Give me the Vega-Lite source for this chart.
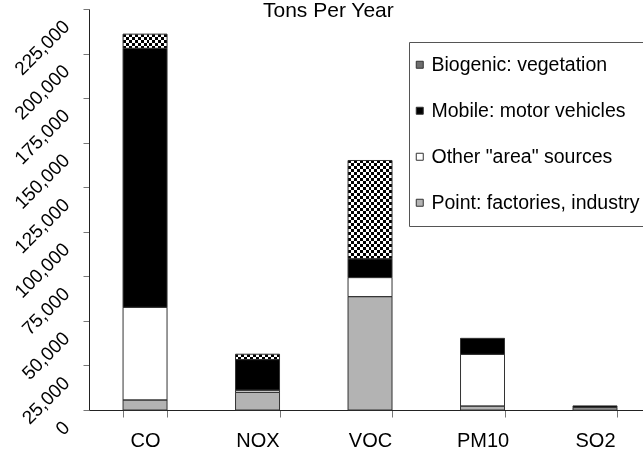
{
  "$schema": "https://vega.github.io/schema/vega-lite/v6.json",
  "autosize": "none",
  "padding": {"left": 89, "top": 9, "right": 0, "bottom": 40},
  "width": 554,
  "height": 401,
  "background": "white",
  "title": {"text": "Tons Per Year", "anchor": "start", "frame": "group", "dx": 174, "offset": -29, "baseline": "alphabetic", "font": "Liberation Sans", "fontSize": 21, "fontWeight": "normal", "color": "black"},
  "data": {"values": [
    {"pollutant": "CO", "source": "Point: factories, industry", "tons": 5600},
    {"pollutant": "CO", "source": "Other \"area\" sources", "tons": 52000},
    {"pollutant": "CO", "source": "Mobile: motor vehicles", "tons": 145300},
    {"pollutant": "CO", "source": "Biogenic: vegetation", "tons": 8000},
    {"pollutant": "NOX", "source": "Point: factories, industry", "tons": 9900},
    {"pollutant": "NOX", "source": "Other \"area\" sources", "tons": 1200},
    {"pollutant": "NOX", "source": "Mobile: motor vehicles", "tons": 17200},
    {"pollutant": "NOX", "source": "Biogenic: vegetation", "tons": 3000},
    {"pollutant": "VOC", "source": "Point: factories, industry", "tons": 63600},
    {"pollutant": "VOC", "source": "Other \"area\" sources", "tons": 10700},
    {"pollutant": "VOC", "source": "Mobile: motor vehicles", "tons": 10500},
    {"pollutant": "VOC", "source": "Biogenic: vegetation", "tons": 55200},
    {"pollutant": "PM10", "source": "Point: factories, industry", "tons": 2200},
    {"pollutant": "PM10", "source": "Other \"area\" sources", "tons": 29000},
    {"pollutant": "PM10", "source": "Mobile: motor vehicles", "tons": 9000},
    {"pollutant": "SO2", "source": "Point: factories, industry", "tons": 1300},
    {"pollutant": "SO2", "source": "Mobile: motor vehicles", "tons": 1000}
  ]},
  "transform": [
    {"stack": "tons", "groupby": ["pollutant"], "sort": [{"field": "source", "order": "descending"}], "as": ["y0", "y1"]}
  ],
  "encoding": {
    "x": {
      "field": "pollutant", "type": "nominal", "sort": ["CO", "NOX", "VOC", "PM10", "SO2"], "title": null,
      "scale": {"paddingInner": 0.609, "paddingOuter": 0.267, "align": 0.567},
      "axis": {"tickBand": "extent", "labelAngle": 0, "labelFont": "Liberation Sans", "labelFontSize": 20, "labelColor": "black", "labelPadding": 13, "tickColor": "#777", "tickSize": 7, "domainColor": "#222", "grid": false}
    },
    "y": {
      "field": "y1", "type": "quantitative", "title": null,
      "scale": {"domain": [0, 225000], "nice": false, "zero": true},
      "axis": {"values": [0, 25000, 50000, 75000, 100000, 125000, 150000, 175000, 200000, 225000], "format": ",d", "labelAngle": -45, "labelAlign": "right", "labelBaseline": "middle", "labelOffset": 14, "labelPadding": 17, "labelFont": "Liberation Sans", "labelFontSize": 19, "labelColor": "black", "labelOverlap": false, "labelFlush": false, "tickColor": "#777", "tickSize": 6, "domainColor": "#222", "grid": false}
    },
    "y2": {"field": "y0"}
  },
  "layer": [
    {
      "mark": {"type": "bar", "strokeWidth": 0},
      "encoding": {
        "fill": {
          "field": "source", "type": "nominal",
          "scale": {"domain": ["Biogenic: vegetation", "Mobile: motor vehicles", "Other \"area\" sources", "Point: factories, industry"], "range": ["#6e6e6e", "#000000", "#ffffff", "#b3b3b3"]},
          "condition": [
            {"test": "datum.source === 'Biogenic: vegetation' && datum.pollutant === 'VOC'", "value": {"gradient": "linear", "x1": 0, "y1": 0, "x2": 0, "y2": 1, "stops": [
              {"offset": 0, "color": "#fff"}, {"offset": 0.0303, "color": "#fff"},
              {"offset": 0.0303, "color": "#000"}, {"offset": 0.0606, "color": "#000"},
              {"offset": 0.0606, "color": "#fff"}, {"offset": 0.0909, "color": "#fff"},
              {"offset": 0.0909, "color": "#000"}, {"offset": 0.1212, "color": "#000"},
              {"offset": 0.1212, "color": "#fff"}, {"offset": 0.1515, "color": "#fff"},
              {"offset": 0.1515, "color": "#000"}, {"offset": 0.1818, "color": "#000"},
              {"offset": 0.1818, "color": "#fff"}, {"offset": 0.2121, "color": "#fff"},
              {"offset": 0.2121, "color": "#000"}, {"offset": 0.2424, "color": "#000"},
              {"offset": 0.2424, "color": "#fff"}, {"offset": 0.2727, "color": "#fff"},
              {"offset": 0.2727, "color": "#000"}, {"offset": 0.3030, "color": "#000"},
              {"offset": 0.3030, "color": "#fff"}, {"offset": 0.3333, "color": "#fff"},
              {"offset": 0.3333, "color": "#000"}, {"offset": 0.3636, "color": "#000"},
              {"offset": 0.3636, "color": "#fff"}, {"offset": 0.3939, "color": "#fff"},
              {"offset": 0.3939, "color": "#000"}, {"offset": 0.4242, "color": "#000"},
              {"offset": 0.4242, "color": "#fff"}, {"offset": 0.4545, "color": "#fff"},
              {"offset": 0.4545, "color": "#000"}, {"offset": 0.4848, "color": "#000"},
              {"offset": 0.4848, "color": "#fff"}, {"offset": 0.5152, "color": "#fff"},
              {"offset": 0.5152, "color": "#000"}, {"offset": 0.5455, "color": "#000"},
              {"offset": 0.5455, "color": "#fff"}, {"offset": 0.5758, "color": "#fff"},
              {"offset": 0.5758, "color": "#000"}, {"offset": 0.6061, "color": "#000"},
              {"offset": 0.6061, "color": "#fff"}, {"offset": 0.6364, "color": "#fff"},
              {"offset": 0.6364, "color": "#000"}, {"offset": 0.6667, "color": "#000"},
              {"offset": 0.6667, "color": "#fff"}, {"offset": 0.6970, "color": "#fff"},
              {"offset": 0.6970, "color": "#000"}, {"offset": 0.7273, "color": "#000"},
              {"offset": 0.7273, "color": "#fff"}, {"offset": 0.7576, "color": "#fff"},
              {"offset": 0.7576, "color": "#000"}, {"offset": 0.7879, "color": "#000"},
              {"offset": 0.7879, "color": "#fff"}, {"offset": 0.8182, "color": "#fff"},
              {"offset": 0.8182, "color": "#000"}, {"offset": 0.8485, "color": "#000"},
              {"offset": 0.8485, "color": "#fff"}, {"offset": 0.8788, "color": "#fff"},
              {"offset": 0.8788, "color": "#000"}, {"offset": 0.9091, "color": "#000"},
              {"offset": 0.9091, "color": "#fff"}, {"offset": 0.9394, "color": "#fff"},
              {"offset": 0.9394, "color": "#000"}, {"offset": 0.9697, "color": "#000"},
              {"offset": 0.9697, "color": "#fff"}, {"offset": 1, "color": "#fff"}
            ]}},
            {"test": "datum.source === 'Biogenic: vegetation' && datum.pollutant === 'CO'", "value": {"gradient": "linear", "x1": 0, "y1": 0, "x2": 0, "y2": 1, "stops": [
              {"offset": 0, "color": "#fff"}, {"offset": 0.2, "color": "#fff"},
              {"offset": 0.2, "color": "#000"}, {"offset": 0.4, "color": "#000"},
              {"offset": 0.4, "color": "#fff"}, {"offset": 0.6, "color": "#fff"},
              {"offset": 0.6, "color": "#000"}, {"offset": 0.8, "color": "#000"},
              {"offset": 0.8, "color": "#fff"}, {"offset": 1, "color": "#fff"}
            ]}},
            {"test": "datum.source === 'Biogenic: vegetation' && datum.pollutant === 'NOX'", "value": {"gradient": "linear", "x1": 0, "y1": 0, "x2": 0, "y2": 1, "stops": [
              {"offset": 0, "color": "#fff"}, {"offset": 0.5, "color": "#fff"},
              {"offset": 0.5, "color": "#000"}, {"offset": 1, "color": "#000"}
            ]}}
          ],
          "legend": {
            "orient": "none", "legendX": 320, "legendY": 33, "title": null,
            "strokeColor": "#555", "fillColor": "white", "padding": 13,
            "labelFont": "Liberation Sans", "labelFontSize": 19.5, "labelColor": "black", "labelOffset": 2, "labelLimit": 400,
            "symbolType": "square", "symbolSize": 49, "symbolStrokeWidth": 1, "symbolStrokeColor": "#333", "symbolOffset": -12, "symbolOpacity": 1,
            "rowPadding": 25
          }
        }
      }
    },
    {
      "transform": [{"filter": "datum.source === 'Biogenic: vegetation'"}],
      "mark": {"type": "bar", "blend": "difference", "strokeWidth": 0, "fill": {"gradient": "linear", "x1": 0, "y1": 0, "x2": 1, "y2": 0, "stops": [
        {"offset": 0, "color": "#fff"}, {"offset": 0.0667, "color": "#fff"},
        {"offset": 0.0667, "color": "#000"}, {"offset": 0.1333, "color": "#000"},
        {"offset": 0.1333, "color": "#fff"}, {"offset": 0.2, "color": "#fff"},
        {"offset": 0.2, "color": "#000"}, {"offset": 0.2667, "color": "#000"},
        {"offset": 0.2667, "color": "#fff"}, {"offset": 0.3333, "color": "#fff"},
        {"offset": 0.3333, "color": "#000"}, {"offset": 0.4, "color": "#000"},
        {"offset": 0.4, "color": "#fff"}, {"offset": 0.4667, "color": "#fff"},
        {"offset": 0.4667, "color": "#000"}, {"offset": 0.5333, "color": "#000"},
        {"offset": 0.5333, "color": "#fff"}, {"offset": 0.6, "color": "#fff"},
        {"offset": 0.6, "color": "#000"}, {"offset": 0.6667, "color": "#000"},
        {"offset": 0.6667, "color": "#fff"}, {"offset": 0.7333, "color": "#fff"},
        {"offset": 0.7333, "color": "#000"}, {"offset": 0.8, "color": "#000"},
        {"offset": 0.8, "color": "#fff"}, {"offset": 0.8667, "color": "#fff"},
        {"offset": 0.8667, "color": "#000"}, {"offset": 0.9333, "color": "#000"},
        {"offset": 0.9333, "color": "#fff"}, {"offset": 1, "color": "#fff"}
      ]}},
      "encoding": {}
    },
    {
      "mark": {"type": "bar", "fill": "transparent", "stroke": "#333", "strokeWidth": 1},
      "encoding": {}
    }
  ],
  "config": {"view": {"stroke": null}, "font": "Liberation Sans"}
}
